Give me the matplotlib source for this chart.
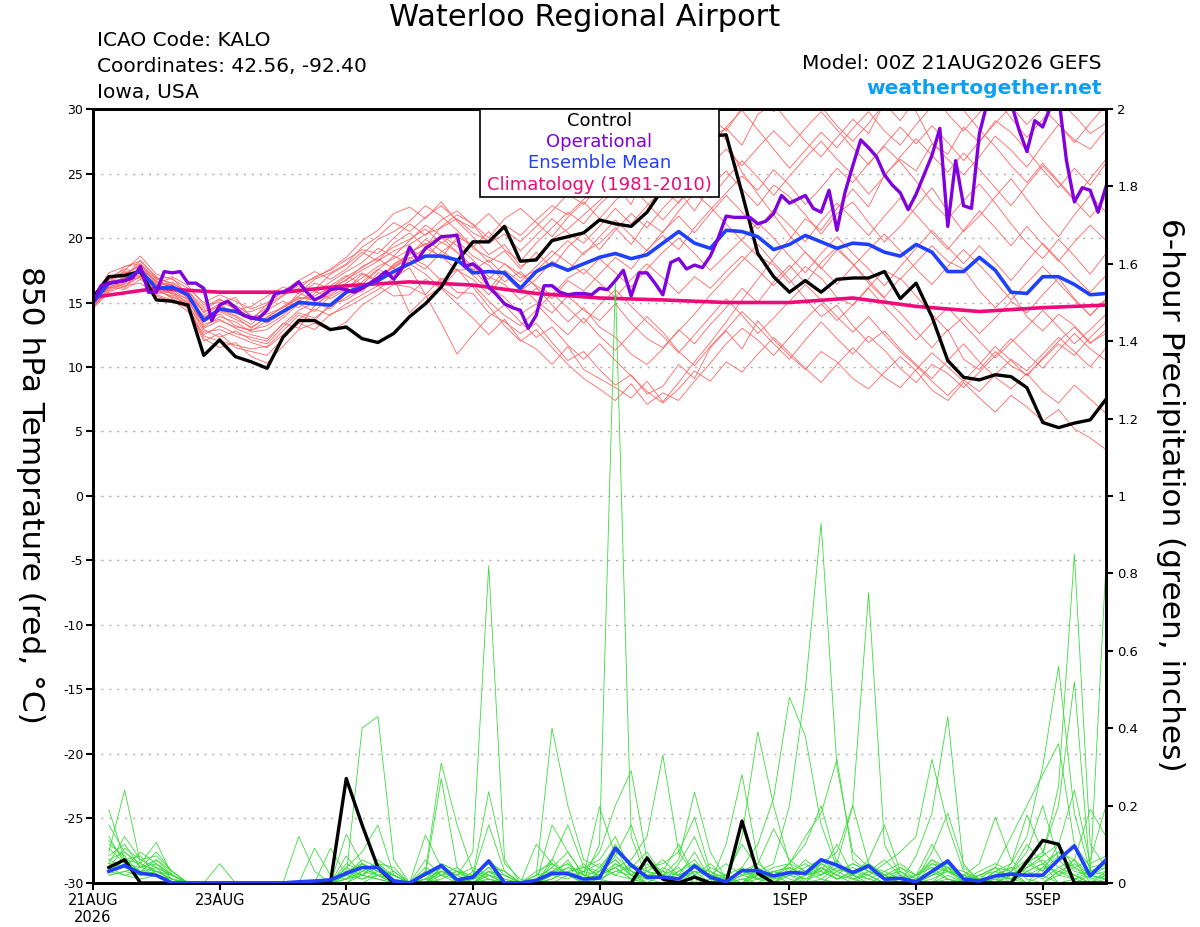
import numpy as np
import matplotlib
matplotlib.use('Agg')
import matplotlib.pyplot as plt
from matplotlib.patches import Rectangle

plt.rcParams['axes.unicode_minus'] = False

# x positions are days after 21AUG2026 00Z; members / control / mean are 6-hourly,
# the operational run is 3-hourly, climatology is one value per day

tick_days = [0, 2, 4, 6, 8, 11, 13, 15]
tick_labels = ['21AUG\n2026', '23AUG', '25AUG', '27AUG', '29AUG', '1SEP', '3SEP', '5SEP']

precip_ticks = [0, 0.2, 0.4, 0.6, 0.8, 1, 1.2, 1.4, 1.6, 1.8, 2]
precip_tick_labels = ['0', '0.2', '0.4', '0.6', '0.8', '1', '1.2', '1.4', '1.6', '1.8', '2']

legend_labels = ['Control', 'Operational', 'Ensemble Mean', 'Climatology (1981-2010)']

# 850 hPa temperature (C)
control_temp = [15.4, 17.0, 17.1, 17.4, 15.2, 15.1, 14.8, 10.9,
                12.1, 10.8, 10.4, 9.9, 12.3, 13.6, 13.6, 12.9,
                13.1, 12.2, 11.9, 12.6, 13.9, 14.9, 16.2, 18.2,
                19.7, 19.7, 20.9, 18.2, 18.3, 19.8, 20.1, 20.4,
                21.4, 21.1, 20.9, 22.0, 23.8, 25.5, 27.2, 27.9,
                28.0, 23.5, 18.8, 17.0, 15.8, 16.7, 15.8, 16.8,
                16.9, 16.9, 17.4, 15.3, 16.5, 13.9, 10.5, 9.2,
                9.0, 9.4, 9.25, 8.4, 5.7, 5.3, 5.65, 5.9,
                7.5]

mean_temp = [15.0, 16.5, 16.7, 17.5, 16.1, 16.2, 15.6, 13.6,
             14.5, 14.3, 13.8, 13.6, 14.3, 15.0, 14.9, 14.8,
             15.8, 16.2, 16.7, 17.4, 18.0, 18.6, 18.6, 18.3,
             17.3, 17.4, 17.3, 16.1, 17.4, 18.0, 17.5, 18.0,
             18.5, 18.8, 18.4, 18.7, 19.6, 20.5, 19.6, 19.2,
             20.6, 20.5, 20.1, 19.1, 19.5, 20.2, 19.7, 19.2,
             19.6, 19.5, 18.9, 18.6, 19.5, 18.9, 17.4, 17.4,
             18.5, 17.5, 15.8, 15.7, 17.0, 17.0, 16.4, 15.6,
             15.7]

oper_temp = [15.0, 16.3, 16.5, 16.6, 16.7, 16.9, 17.8, 15.8,
             15.8, 17.4, 17.3, 17.4, 16.5, 16.5, 16.1, 13.6,
             14.8, 15.1, 14.6, 14.0, 13.8, 13.8, 14.4, 15.7,
             15.8, 16.1, 16.6, 15.8, 15.2, 15.5, 16.0, 16.1,
             16.0, 15.8, 16.1, 16.5, 16.9, 17.4, 16.8, 17.6,
             19.3, 18.3, 19.2, 19.6, 20.1, 20.15, 20.2, 17.8,
             18.0, 17.5, 16.2, 15.6, 14.9, 14.6, 14.4, 13.0,
             14.0, 16.3, 16.3, 15.8, 15.6, 15.7, 15.7, 15.6,
             16.1, 16.0, 16.7, 17.5, 15.5, 17.3, 17.3, 16.5,
             15.6, 18.1, 18.4, 17.6, 17.9, 17.7, 18.6, 20.0,
             21.7, 21.6, 21.6, 21.6, 21.1, 21.3, 21.9, 23.3,
             22.7, 23.0, 23.3, 22.3, 22.0, 23.7, 20.6, 23.5,
             25.6, 27.6, 27.0, 26.3, 24.9, 24.1, 23.5, 22.2,
             23.4, 24.9, 26.4, 28.5, 20.9, 26.0, 22.5, 22.3,
             28.1, 30.5, 31.5, 31.8, 30.5, 28.4, 26.7, 29.1,
             28.6, 30.2, 31.0, 26.0, 22.8, 23.9, 23.7, 22.0,
             24.0]

clim_days = [0, 1, 2, 3, 4, 5, 6, 7, 8, 9, 10, 11, 12, 13, 14, 15, 16]
clim_temp = [15.4, 16.1, 15.8, 15.8, 16.3, 16.6, 16.35, 15.7, 15.35,
             15.2, 15.0, 15.0, 15.35, 14.7, 14.3, 14.6, 14.8]

# ensemble members, 850 hPa temperature
t_mem01 = [15.0, 16.8, 17.2, 17.9, 16.4, 16.0, 15.2, 14.0,
           14.8, 14.2, 13.9, 14.1, 14.6, 15.4, 15.2, 15.9,
           16.8, 17.5, 18.2, 19.0, 19.5, 20.3, 20.8, 21.5,
           20.4, 19.8, 21.0, 20.2, 21.4, 22.5, 21.8, 23.0,
           23.8, 24.5, 23.2, 24.8, 25.6, 26.9, 25.3, 27.8,
           28.5, 27.2, 29.6, 30.4, 28.9, 27.5, 26.3, 27.8,
           29.2, 28.1, 30.5, 31.2, 29.8, 27.4, 26.1, 24.9,
           26.3, 27.9, 26.8, 25.5, 27.2, 28.8, 27.6, 26.9,
           28.4]
t_mem02 = [14.6, 16.1, 16.4, 17.0, 15.5, 15.1, 14.6, 12.2,
           11.5, 11.9, 10.8, 10.3, 11.6, 12.9, 13.4, 12.8,
           13.5, 14.8, 15.6, 16.4, 16.2, 15.6, 16.9, 15.8,
           15.7, 14.2, 13.5, 12.6, 13.4, 11.9, 10.5, 11.2,
           9.8, 8.6, 9.4, 7.9, 8.5, 10.2, 9.1, 11.5,
           12.8, 11.4, 13.6, 12.1, 10.9, 9.8, 11.2, 10.4,
           9.1, 8.3, 9.6, 10.8, 9.7, 8.2, 7.4, 8.8,
           7.6, 6.5, 7.8, 6.9, 5.8, 6.7, 5.2, 4.5,
           3.6]
t_mem03 = [15.2, 17.1, 16.9, 18.3, 16.9, 16.5, 15.8, 13.1,
           13.9, 13.5, 12.7, 12.9, 13.8, 14.9, 14.3, 15.5,
           16.1, 16.9, 17.8, 18.4, 19.1, 18.5, 19.7, 18.9,
           17.5, 18.3, 17.1, 15.9, 16.8, 18.2, 17.4, 18.9,
           19.6, 20.8, 19.5, 21.3, 20.4, 22.1, 23.5, 22.4,
           21.1, 19.8, 18.6, 17.9, 16.5, 17.8, 16.9, 15.4,
           14.8, 16.2, 17.5, 16.8, 18.1, 19.4, 18.2, 17.6,
           15.9, 14.6, 15.8, 13.9, 12.8, 14.1, 13.2, 11.9,
           12.6]
t_mem04 = [14.9, 16.4, 17.5, 18.6, 17.2, 16.8, 16.1, 15.0,
           15.6, 15.1, 14.5, 15.0, 15.8, 16.4, 16.9, 17.6,
           18.5, 19.8, 20.6, 21.9, 22.4, 21.5, 22.8, 21.3,
           20.1, 18.7, 19.5, 17.8, 18.5, 19.9, 20.7, 21.8,
           22.9, 24.1, 22.6, 25.3, 26.5, 25.2, 27.4, 28.9,
           27.6, 25.1, 23.4, 21.8, 20.2, 18.9, 17.6, 19.1,
           18.0, 16.5, 15.3, 14.2, 12.8, 11.5, 12.9, 10.6,
           9.8, 11.2, 10.1, 9.4, 10.6, 11.8, 10.9, 12.3,
           13.5]
t_mem05 = [15.3, 16.6, 16.2, 17.1, 16.0, 15.4, 15.0, 13.5,
           14.1, 13.2, 12.8, 13.6, 14.3, 15.8, 15.1, 16.3,
           17.1, 16.4, 17.5, 18.6, 18.0, 17.2, 16.1, 14.9,
           13.8, 12.5, 13.7, 12.1, 11.4, 10.2, 11.6, 9.8,
           9.1, 8.4, 7.6, 8.9, 7.3, 8.8, 10.4, 11.9,
           13.5, 15.2, 16.8, 18.4, 19.9, 21.5, 20.6, 22.3,
           23.8, 22.4, 24.9, 26.1, 25.2, 27.3, 26.5, 28.6,
           27.4, 29.1, 28.2, 26.8, 25.3, 23.9, 25.4, 24.1,
           25.8]
t_mem06 = [14.7, 16.9, 17.6, 17.3, 16.5, 16.9, 15.6, 14.4,
           15.2, 14.8, 14.0, 13.4, 14.2, 15.1, 15.9, 15.3,
           16.0, 17.2, 16.6, 17.9, 18.8, 19.6, 18.4, 20.1,
           19.4, 18.1, 19.0, 17.6, 18.9, 17.7, 19.3, 20.4,
           19.1, 20.6, 21.9, 20.8, 22.3, 23.6, 22.1, 24.0,
           25.2, 23.8, 22.5, 24.1, 23.2, 21.8, 20.3, 21.9,
           22.8, 21.2, 19.7, 20.9, 22.4, 23.9, 22.1, 20.5,
           21.7, 23.2, 24.6, 23.0, 21.4, 20.1, 21.8, 23.3,
           22.0]
t_mem07 = [15.1, 16.2, 16.0, 16.8, 15.8, 15.9, 14.9, 12.7,
           12.9, 12.4, 11.9, 11.5, 12.5, 13.7, 14.5, 14.0,
           14.9, 15.6, 16.3, 15.5, 15.6, 16.8, 16.1, 17.5,
           17.6, 16.2, 15.4, 14.1, 14.9, 13.6, 12.5, 13.8,
           12.4, 11.3, 12.6, 13.9, 12.7, 11.2, 10.1, 11.6,
           12.9, 14.3, 13.1, 11.8, 10.6, 12.1, 13.5, 12.2,
           11.0, 12.4, 11.3, 9.9, 8.8, 10.2, 9.5, 8.4,
           9.6, 10.9, 12.2, 11.0, 9.9, 11.3, 12.6, 11.4,
           10.5]
t_mem08 = [15.0, 16.3, 17.0, 17.6, 16.7, 16.1, 15.4, 13.8,
           14.5, 14.0, 13.3, 14.4, 15.1, 14.6, 15.7, 16.6,
           17.4, 18.1, 19.2, 18.6, 19.8, 21.0, 20.2, 19.4,
           18.3, 17.0, 16.4, 15.2, 16.1, 15.3, 16.7, 15.9,
           17.2, 18.5, 17.6, 19.1, 20.2, 19.1, 20.8, 22.2,
           23.5, 24.8, 23.7, 25.3, 24.1, 22.6, 23.9, 25.4,
           24.3, 25.8, 27.1, 25.9, 24.4, 22.8, 21.5, 22.9,
           24.2, 22.7, 21.1, 19.6, 18.4, 19.9, 18.6, 17.2,
           18.8]
t_mem09 = [14.8, 16.0, 16.6, 17.4, 16.2, 15.7, 15.3, 12.9,
           12.3, 12.8, 12.1, 11.8, 13.1, 14.2, 13.8, 14.7,
           15.4, 16.2, 17.0, 17.7, 18.4, 19.2, 18.6, 17.5,
           16.8, 15.6, 17.2, 16.3, 15.1, 14.2, 15.5, 14.4,
           13.6, 14.9, 13.4, 12.2, 11.5, 12.8, 14.1, 15.6,
           16.9, 18.2, 19.5, 18.1, 16.8, 15.3, 13.9, 14.8,
           13.2, 11.9, 12.8, 11.4, 10.2, 9.1, 10.5, 11.8,
           10.4, 9.2, 8.3, 9.5, 8.1, 7.2, 8.6, 7.5,
           6.4]
t_mem10 = [15.4, 17.3, 17.8, 18.2, 17.0, 16.3, 15.9, 14.6,
           15.3, 14.4, 14.7, 15.5, 16.2, 15.7, 16.8, 17.3,
           18.0, 19.3, 20.1, 21.2, 20.5, 21.6, 22.5, 21.4,
           20.8, 21.9, 20.6, 19.7, 20.9, 22.1, 23.4, 22.6,
           24.1, 25.5, 24.3, 26.2, 27.5, 26.3, 28.1, 29.4,
           28.3, 30.1, 31.2, 29.8, 30.6, 31.8, 30.2, 28.7,
           27.5, 28.9, 30.4, 29.1, 30.8, 31.5, 29.6, 28.3,
           29.7, 30.9, 29.3, 27.8, 29.2, 30.6, 29.5, 28.1,
           28.9]
t_mem11 = [14.5, 15.8, 16.3, 16.5, 15.6, 15.2, 14.3, 12.5,
           13.2, 12.6, 12.3, 12.0, 13.4, 13.0, 14.8, 15.6,
           16.4, 15.8, 17.3, 17.1, 18.3, 17.6, 18.9, 19.8,
           18.6, 17.9, 16.6, 17.4, 16.2, 14.8, 13.5, 14.6,
           13.1, 12.3, 11.0, 10.2, 11.4, 12.9, 11.8, 13.3,
           14.6, 16.1, 15.0, 16.6, 17.9, 16.5, 18.1, 19.3,
           18.0, 16.7, 15.4, 16.9, 15.5, 14.1, 12.8, 13.9,
           12.6, 13.8, 15.1, 14.2, 15.6, 16.9, 15.3, 14.0,
           15.2]
t_mem12 = [15.2, 16.7, 17.4, 17.0, 16.3, 16.6, 15.7, 14.2,
           14.9, 15.4, 13.8, 14.6, 15.5, 16.3, 16.0, 17.2,
           17.9, 18.9, 18.2, 19.6, 20.4, 19.3, 20.9, 21.8,
           21.1, 20.0, 21.5, 22.3, 21.2, 20.1, 21.6, 22.8,
           21.5, 22.9, 24.0, 22.7, 21.4, 22.8, 24.3, 23.1,
           24.6, 26.0, 24.7, 23.3, 24.8, 26.2, 27.5, 26.1,
           24.9, 23.4, 24.8, 26.3, 27.7, 26.4, 25.1, 26.6,
           25.3, 23.9, 22.5, 24.1, 25.6, 24.3, 22.9, 21.6,
           23.2]
t_mem13 = [14.9, 16.4, 16.1, 17.7, 16.6, 15.6, 15.1, 13.3,
           13.7, 13.0, 12.5, 12.2, 13.3, 14.4, 15.0, 14.5,
           15.7, 16.6, 17.6, 16.9, 17.7, 15.6, 13.4, 11.0,
           12.5, 13.9, 14.8, 13.5, 12.3, 13.1, 11.7, 10.6,
           11.8, 10.5, 9.3, 8.1, 7.2, 8.3, 9.7, 8.9,
           10.4, 9.6, 11.0, 12.3, 11.1, 9.9, 8.8, 10.2,
           11.5, 10.3, 9.2, 8.4, 9.8, 11.1, 10.0, 8.9,
           10.2, 11.6, 10.5, 9.3, 10.7, 12.0, 13.1, 11.8,
           12.9]
t_mem14 = [15.1, 16.5, 17.8, 18.0, 16.8, 17.0, 16.3, 14.8,
           15.0, 14.6, 13.6, 14.9, 15.9, 16.7, 17.4, 16.8,
           17.6, 18.7, 19.9, 20.5, 21.3, 22.5, 21.7, 20.6,
           19.3, 20.5, 19.1, 18.2, 19.6, 20.8, 22.0, 21.1,
           22.6, 23.7, 25.0, 23.9, 25.5, 27.0, 28.2, 27.1,
           28.6, 29.9, 28.4, 26.9, 25.4, 26.8, 28.2, 27.0,
           28.5, 29.8, 28.3, 27.2, 28.8, 30.2, 31.3, 29.9,
           28.4, 27.1, 25.6, 24.3, 25.8, 24.4, 23.0, 24.6,
           26.1]
t_mem15 = [15.3, 16.1, 16.8, 16.9, 15.9, 15.5, 14.8, 13.0,
           13.6, 13.1, 12.9, 13.2, 14.0, 15.2, 14.7, 15.8,
           16.5, 17.3, 16.7, 18.0, 18.7, 19.9, 19.0, 18.2,
           17.1, 16.0, 17.5, 16.6, 17.8, 19.0, 18.1, 17.2,
           18.4, 17.3, 16.2, 17.6, 18.9, 20.0, 18.8, 17.5,
           18.7, 19.9, 21.2, 20.0, 18.6, 17.3, 18.8, 20.1,
           18.8, 17.6, 16.3, 17.8, 19.2, 20.6, 19.3, 18.0,
           19.4, 18.1, 16.7, 18.2, 19.6, 18.3, 17.0, 15.8,
           17.1]
t_mem16 = [14.7, 15.9, 16.5, 17.2, 15.7, 15.8, 14.5, 12.0,
           12.6, 11.5, 11.2, 10.9, 12.2, 13.4, 12.9, 14.1,
           14.6, 15.3, 16.0, 16.9, 14.2, 15.4, 16.2, 15.3,
           16.4, 15.1, 14.0, 13.2, 14.4, 15.7, 14.6, 13.4,
           14.8, 16.0, 14.7, 13.5, 12.4, 11.1, 12.5, 13.9,
           15.3, 14.0, 12.6, 13.8, 15.1, 16.4, 15.2, 13.9,
           12.7, 13.9, 12.5, 11.2, 10.1, 8.9, 7.8, 9.0,
           8.1, 9.4, 10.6, 9.7, 11.0, 12.3, 11.2, 10.0,
           11.5]
t_mem17 = [15.0, 17.0, 17.3, 17.8, 16.9, 16.0, 15.5, 13.7,
           14.3, 13.7, 13.1, 13.8, 14.7, 15.5, 16.5, 16.1,
           17.0, 17.7, 18.5, 19.3, 19.9, 20.7, 19.6, 20.4,
           19.2, 18.5, 18.0, 16.9, 17.5, 18.6, 19.8, 18.7,
           20.1, 21.4, 20.2, 19.0, 20.5, 21.7, 20.4, 21.9,
           23.3, 22.0, 20.7, 22.2, 21.0, 19.7, 21.3, 22.7,
           21.5, 20.2, 21.7, 23.1, 21.8, 20.4, 19.1, 20.6,
           22.1, 20.8, 19.4, 20.9, 19.5, 18.2, 19.7, 21.0,
           19.8]
t_mem18 = [14.6, 16.2, 16.7, 17.5, 16.1, 15.3, 14.7, 12.4,
           12.0, 11.7, 11.4, 11.6, 12.8, 14.0, 13.6, 14.9,
           15.2, 16.0, 16.8, 17.8, 18.5, 17.9, 16.7, 17.6,
           16.2, 14.7, 13.2, 12.0, 12.9, 11.5, 10.2, 9.1,
           8.3, 7.4, 8.7, 7.1, 8.0, 7.4, 8.9, 10.3,
           11.8, 13.0, 12.1, 10.9, 12.3, 13.7, 14.9, 13.6,
           14.8, 16.1, 14.7, 13.4, 12.1, 13.4, 14.6, 13.3,
           12.0, 10.7, 11.9, 13.1, 14.4, 13.1, 11.8, 12.9,
           14.1]
t_mem19 = [15.5, 16.9, 17.1, 18.0, 16.6, 16.2, 15.9, 14.3,
           14.7, 14.2, 14.3, 14.8, 15.6, 16.1, 17.0, 17.5,
           18.3, 19.1, 18.8, 20.0, 21.1, 20.2, 21.4, 22.1,
           21.0, 19.6, 20.3, 19.0, 20.2, 21.5, 20.4, 19.6,
           20.9, 22.3, 21.1, 22.5, 23.8, 22.7, 24.2, 25.6,
           26.9, 25.6, 27.0, 28.3, 27.1, 28.5, 29.8, 28.4,
           27.0, 25.7, 27.2, 28.6, 27.3, 28.7, 27.4, 26.0,
           27.5, 28.9, 30.2, 28.8, 30.1, 28.8, 27.4, 28.9,
           30.3]
t_mem20 = [14.8, 16.6, 16.9, 17.4, 16.4, 16.4, 15.3, 13.9,
           14.4, 13.9, 13.0, 13.9, 14.6, 15.3, 15.5, 16.2,
           16.7, 17.8, 18.4, 17.6, 18.9, 19.5, 20.1, 18.9,
           17.8, 16.8, 18.0, 17.2, 16.3, 15.6, 16.9, 17.6,
           16.5, 15.4, 16.8, 18.0, 16.9, 15.7, 17.0, 16.1,
           17.4, 18.6, 17.5, 16.3, 17.6, 18.9, 17.7, 16.4,
           17.8, 19.1, 20.3, 19.0, 17.6, 16.4, 17.8, 19.1,
           17.9, 16.6, 15.2, 16.5, 17.8, 16.5, 15.2, 14.0,
           15.3]

# 6-hour precipitation (inches), first value is valid 21AUG 06Z
control_precip = [0.04, 0.06, 0, 0, 0, 0, 0,
                  0, 0, 0, 0, 0, 0, 0, 0,
                  0.27, 0.15, 0.04, 0, 0, 0, 0, 0,
                  0, 0, 0, 0, 0, 0, 0, 0,
                  0, 0, 0, 0.065, 0.01, 0, 0.015, 0,
                  0, 0.16, 0.025, 0, 0, 0, 0, 0,
                  0, 0, 0, 0, 0, 0, 0, 0,
                  0, 0, 0, 0.055, 0.11, 0.10, 0, 0,
                  0]

mean_precip = [0.03, 0.045, 0.025, 0.02, 0, 0, 0,
               0, 0, 0, 0, 0, 0.003, 0.005, 0.008,
               0.025, 0.04, 0.04, 0.005, 0, 0.023, 0.045, 0.008,
               0.015, 0.057, 0, 0, 0.007, 0.025, 0.024, 0.01,
               0.013, 0.09, 0.046, 0.015, 0.015, 0.01, 0.044, 0.015,
               0.003, 0.032, 0.032, 0.018, 0.027, 0.025, 0.06, 0.046,
               0.027, 0.044, 0.01, 0.012, 0.003, 0.03, 0.057, 0.01,
               0.005, 0.018, 0.023, 0.02, 0.02, 0.06, 0.096, 0.018,
               0.06]

p_mem01 = [.19, .06, .03, .02, 0, 0, 0,
           0, 0, 0, 0, 0, 0, 0, 0,
           0, 0, .02, .01, 0, 0, .03, .01,
           0, .02, 0, 0, 0, .03, .05, .01,
           .1, 1.55, .12, .01, 0, 0, .02, 0,
           0, .03, .05, .02, 0, 0, .01, 0,
           0, 0, 0, .04, .02, .1, .03, 0,
           0, .01, 0, 0, .02, 0, .01, 0,
           0]
p_mem02 = [.08, .24, .05, .03, .01, 0, 0,
           0, 0, 0, 0, 0, 0, 0, 0,
           .01, .03, .05, .02, 0, 0, 0, 0,
           .01, .04, 0, 0, 0, 0, .02, .05,
           .01, 0, 0, .03, .06, .02, 0, 0,
           0, 0, .02, 0, .04, .02, .03, .1,
           .02, 0, 0, 0, 0, .03, .05, .01,
           0, 0, .03, 0, 0, .02, .04, .01,
           .02]
p_mem03 = [.06, .08, .05, .105, .02, 0, 0,
           0, 0, 0, 0, 0, 0, 0, 0,
           .03, .05, .02, 0, 0, .02, .04, 0,
           .02, .15, .03, 0, 0, .02, .06, 0,
           0, .05, .02, 0, 0, .03, .06, .01,
           0, .12, .39, .2, .05, 0, 0, .03,
           .01, 0, .02, 0, 0, 0, .04, .02,
           0, 0, .05, .12, .3, .56, .18, .03,
           .05]
p_mem04 = [.04, .02, .03, .06, .03, 0, 0,
           .05, 0, 0, 0, 0, 0, 0, 0,
           0, .02, .01, 0, 0, 0, .03, .02,
           0, .03, 0, 0, .02, .06, .02, 0,
           .03, .1, .04, .08, .02, 0, 0, .04,
           .02, 0, 0, .03, .01, 0, .05, .02,
           0, .03, .06, .02, 0, 0, .01, 0,
           .02, .04, .03, .1, .05, 0, 0, .02,
           .01]
p_mem05 = [.03, .05, .02, .04, 0, 0, 0,
           0, 0, 0, 0, 0, .12, .03, 0,
           .07, .02, .04, .01, 0, .03, 0, 0,
           .03, .01, 0, 0, .01, .04, .02, .03,
           .05, .02, .01, 0, 0, 0, .03, 0,
           .1, .28, .06, 0, 0, .02, .04, .01,
           .03, .05, .02, 0, 0, .02, .06, .01,
           0, 0, .02, .04, .07, .25, .85, .1,
           .04]
p_mem06 = [.05, .04, .03, .02, 0, 0, 0,
           0, 0, 0, 0, 0, 0, .09, .02,
           .01, .05, .03, 0, 0, 0, .01, .03,
           .01, .02, 0, 0, 0, .02, .03, .04,
           .06, .12, .03, .01, .04, .02, .08, .01,
           0, 0, .04, .01, .05, .1, .2, .05,
           .2, .75, .1, .02, 0, .05, .04, 0,
           0, .02, .01, 0, 0, .03, .01, .02,
           .05]
p_mem07 = [.02, .03, .04, .03, .02, 0, 0,
           0, 0, 0, 0, 0, 0, 0, .09,
           .02, .04, .02, 0, 0, .01, 0, 0,
           0, .01, 0, 0, 0, .01, .04, .02,
           .197, .07, .03, 0, 0, .05, .12, .02,
           0, .01, .02, 0, 0, .02, .05, .03,
           .04, .02, 0, 0, .07, .18, .43, .04,
           .01, 0, 0, .03, .05, .02, .06, 0,
           .03]
p_mem08 = [.1, .07, .02, .03, .01, 0, 0,
           0, 0, 0, 0, 0, 0, 0, 0,
           .126, .05, .03, .02, 0, 0, .04, .01,
           0, .03, .02, 0, 0, .05, .02, 0,
           .01, .08, .05, .02, .01, 0, .03, .02,
           .02, .1, .04, 0, .03, .01, .02, .06,
           .01, .02, 0, .03, 0, 0, .02, 0,
           0, .03, 0, .05, .08, .2, .52, .02,
           .06]
p_mem09 = [.04, .09, .06, .04, .02, 0, 0,
           0, 0, 0, 0, 0, 0, 0, 0,
           .02, .40, .43, .06, 0, 0, .02, 0,
           0, .02, 0, 0, .01, .04, .08, .02,
           .03, .06, .02, 0, .02, .04, 0, .01,
           0, .04, .1, .22, .48, .38, .15, .04,
           .02, .05, .01, 0, 0, .03, .05, 0,
           .02, 0, 0, .03, .01, .04, .06, .02,
           .01]
p_mem10 = [.06, .04, .08, .05, .02, 0, 0,
           0, 0, 0, 0, 0, 0, 0, 0,
           .04, .08, .15, .02, 0, .01, .05, .03,
           0, .01, 0, 0, 0, .02, .01, .03,
           .08, .2, .29, .06, .03, 0, .05, .02,
           0, 0, .01, .03, .02, 0, .04, .02,
           .05, .03, .02, .04, .01, .08, .18, .05,
           0, .02, .04, .01, 0, .03, .02, 0,
           .02]
p_mem11 = [.09, .05, .04, .08, .03, 0, 0,
           0, 0, 0, 0, 0, 0, 0, 0,
           0, .03, .05, .01, 0, .124, .04, 0,
           .02, .05, 0, 0, 0, .03, .02, .01,
           .02, .04, .06, .12, .33, .08, .02, 0,
           0, .01, 0, .02, .05, .03, .01, .04,
           .03, .01, 0, 0, .02, .04, .01, 0,
           0, .01, .03, .08, .2, .06, .02, 0,
           .01]
p_mem12 = [.05, .04, .02, .03, .01, 0, 0,
           0, 0, 0, 0, 0, 0, 0, 0,
           .03, .02, .01, 0, 0, .06, .02, .04,
           .01, .04, .03, 0, 0, .01, .03, 0,
           .02, .07, .15, .03, .01, .02, .04, .03,
           .01, .03, .02, 0, .03, .05, .02, .04,
           .02, .06, .15, .03, 0, .02, .03, .01,
           0, .03, .02, 0, .04, .08, .03, .02,
           .83]
p_mem13 = [.03, .06, .07, .02, .01, 0, 0,
           0, 0, 0, 0, 0, 0, 0, 0,
           .02, .06, .04, .02, 0, .03, .31, .15,
           .03, .02, 0, 0, .03, .05, .02, .01,
           .04, .09, .02, .05, .01, 0, .02, .05,
           .01, 0, .03, .05, .2, .5, .93, .3,
           .08, .04, .02, 0, .01, .03, .01, 0,
           .02, .04, .01, .06, .03, .1, .24, .05,
           .07]
p_mem14 = [.12, .05, .03, .04, .02, 0, 0,
           0, 0, 0, 0, 0, 0, 0, 0,
           .01, .04, .02, .03, 0, .02, .27, .04,
           0, .03, .01, 0, .02, .03, .05, .02,
           .01, .03, .04, .02, .03, .1, .02, 0,
           .02, .04, .01, 0, .02, .06, .03, .01,
           .03, .02, .05, .08, .12, .32, .15, .03,
           0, .02, .01, .04, .06, .02, .01, .03,
           .04]
p_mem15 = [.07, .1, .04, .06, .02, 0, 0,
           0, 0, 0, 0, 0, 0, 0, 0,
           .03, .01, .02, 0, 0, 0, .04, .02,
           .08, .82, .06, 0, .01, .02, .04, .03,
           .02, .05, .03, .02, .01, .03, .05, .02,
           0, .03, .02, .04, .05, .12, .18, .32,
           .06, .03, .01, .02, 0, .01, .03, .02,
           .01, 0, .02, .05, .03, .07, .04, .06,
           .2]
p_mem16 = [.02, .03, .02, .05, .01, 0, 0,
           0, 0, 0, 0, 0, 0, 0, 0,
           .05, .03, .02, .01, 0, .02, .05, .03,
           .02, .236, .05, .01, 0, .02, .03, .04,
           .03, .06, .02, .01, .02, .06, .235, .08,
           .01, 0, .02, .03, .02, .01, .04, .02,
           .01, .03, .02, .01, 0, .02, .04, .01,
           .03, .05, .03, .06, .07, .1, .04, .02,
           .03]
p_mem17 = [.11, .06, .05, .03, .02, 0, 0,
           0, 0, 0, 0, 0, 0, 0, 0,
           .02, .01, .03, .02, 0, .01, .03, .02,
           .04, .02, .01, 0, .1, .05, .02, .01,
           .02, .04, .01, 0, .03, .02, .04, .01,
           0, .02, .05, .14, .06, .03, .02, .05,
           .02, .01, .03, .05, .02, .06, .03, .02,
           .01, .04, .12, .2, .28, .36, .1, .04,
           .05]
p_mem18 = [.15, .08, .04, .05, .02, 0, 0,
           0, 0, 0, 0, 0, 0, 0, 0,
           .01, .02, .05, .04, 0, .02, .03, .01,
           .02, .05, .03, 0, .02, .40, .20, .06,
           .04, .02, .05, .03, .02, .01, .03, .02,
           .01, .03, .01, .02, .04, .02, .05, .08,
           .2, .05, .02, .03, .01, .06, .04, .03,
           .01, .02, .04, .03, .05, .08, .06, .19,
           .12]
p_mem19 = [.05, .12, .06, .07, .03, 0, 0,
           0, 0, 0, 0, 0, 0, 0, 0,
           .04, .02, .06, .03, 0, .04, .02, .01,
           .01, .06, .02, 0, 0, .15, .08, .02,
           .01, .03, .02, .04, .05, .08, .17, .03,
           0, .02, .03, .01, .02, .04, .06, .03,
           .05, .03, .01, 0, .02, .04, .03, .02,
           .05, .17, .06, .02, .04, .03, .05, .02,
           .04]
p_mem20 = [.03, .02, .01, .02, .01, 0, 0,
           0, 0, 0, 0, 0, 0, 0, 0,
           .02, .05, .03, .02, 0, .01, .02, .03,
           .01, .03, .02, 0, 0, .06, .15, .04,
           .02, .04, .01, .03, .02, .01, .03, .02,
           .05, .02, .01, .03, .04, .02, .03, .01,
           .02, .04, .03, .01, .02, .05, .03, .01,
           .02, .03, .05, .176, .08, .04, .02, .03,
           .02]

temp_members = [t_mem01, t_mem02, t_mem03, t_mem04, t_mem05, t_mem06, t_mem07,
                t_mem08, t_mem09, t_mem10, t_mem11, t_mem12, t_mem13, t_mem14,
                t_mem15, t_mem16, t_mem17, t_mem18, t_mem19, t_mem20]
precip_members = [p_mem01, p_mem02, p_mem03, p_mem04, p_mem05, p_mem06, p_mem07,
                  p_mem08, p_mem09, p_mem10, p_mem11, p_mem12, p_mem13, p_mem14,
                  p_mem15, p_mem16, p_mem17, p_mem18, p_mem19, p_mem20]

RED = '#ff6464'
GREEN = '#3cdc3c'
PURPLE = '#8000e0'
BLUE = '#2040ff'
MAGENTA = '#ee0a7a'
SITE_BLUE = '#0aa0f5'


def six_hourly(values, start=0):
    return (np.arange(len(values)) + start) / 4.0


def main():
    fig = plt.figure(figsize=(12, 9.27), dpi=100)
    ax = fig.add_axes([0.0775, 0.0475, 0.8442, 0.8349])

    # temperature
    for v in range(-25, 30, 5):
        ax.axhline(v, color='#b0b0b0', lw=1, ls=(0, (1.5, 4.2)), zorder=1)
    for m in temp_members:
        ax.plot(six_hourly(m), m, color=RED, lw=0.6, zorder=2)
    ax.plot(clim_days, clim_temp, color=MAGENTA, lw=2.6, zorder=3)
    ax.plot(six_hourly(control_temp), control_temp, color='black', lw=2.4, zorder=4)
    ax.plot(six_hourly(mean_temp), mean_temp, color=BLUE, lw=2.6, zorder=5)
    ax.plot(np.arange(len(oper_temp)) / 8.0, oper_temp, color=PURPLE, lw=2.4, zorder=6)

    ax.set_xlim(0, 16)
    ax.set_ylim(-30, 30)
    ax.set_yticks(range(-30, 31, 5))
    ax.set_xticks(tick_days)
    ax.set_xticklabels(tick_labels)
    ax.tick_params(axis='y', labelsize=9, length=5, width=1.5, direction='out', pad=2)
    ax.tick_params(axis='x', labelsize=10.5, length=5, width=1.5, direction='out', pad=2)

    # precipitation on the right axis
    ax2 = ax.twinx()
    for m in precip_members:
        ax2.plot(six_hourly(m, 1), m, color=GREEN, lw=0.6, zorder=2)
    ax2.plot(six_hourly(control_precip, 1), control_precip, color='black', lw=2.4, zorder=4)
    ax2.plot(six_hourly(mean_precip, 1), mean_precip, color=BLUE, lw=2.6, zorder=5)
    ax2.set_ylim(0, 2)
    ax2.set_xlim(0, 16)
    ax2.set_yticks(precip_ticks)
    ax2.set_yticklabels(precip_tick_labels)
    ax2.tick_params(axis='y', labelsize=9.5, length=5, width=1.5, direction='out', pad=3)

    for a in (ax, ax2):
        for s in a.spines.values():
            s.set_linewidth(2)

    # legend box at the top of the plot
    ax2.add_patch(Rectangle((0.382, 0.886), 0.236, 0.114, transform=ax2.transAxes,
                            facecolor='white', edgecolor='black', lw=1.2,
                            zorder=20, clip_on=False))
    leg_colors = ['black', PURPLE, BLUE, MAGENTA]
    leg_y = [0.9845, 0.957, 0.930, 0.902]
    for lab, c, y in zip(legend_labels, leg_colors, leg_y):
        ax2.text(0.5, y, lab, color=c, fontsize=13, ha='center', va='center',
                 transform=ax2.transAxes, zorder=21)

    # header text
    fig.text(0.4875, 0.981, 'Waterloo Regional Airport', fontsize=22,
             ha='center', va='center')
    fig.text(0.081, 0.956, 'ICAO Code: KALO', fontsize=14.5, va='center')
    fig.text(0.081, 0.928, 'Coordinates: 42.56, -92.40', fontsize=14.5, va='center')
    fig.text(0.081, 0.900, 'Iowa, USA', fontsize=14.5, va='center')
    fig.text(0.918, 0.932, 'Model: 00Z 21AUG2026 GEFS', fontsize=14.5,
             ha='right', va='center')
    fig.text(0.918, 0.904, 'weathertogether.net', fontsize=14.5, ha='right',
             va='center', color=SITE_BLUE, fontweight='bold')

    fig.text(0.025, 0.466, '850 hPa Temprature (red, \u00b0C)', fontsize=22.5,
             rotation=270, ha='center', va='center')
    fig.text(0.975, 0.466, '6-hour Precipitation (green, inches)', fontsize=22.5,
             rotation=270, ha='center', va='center')

    fig.savefig('out.png', dpi=100)


if __name__ == "__main__":
    main()
